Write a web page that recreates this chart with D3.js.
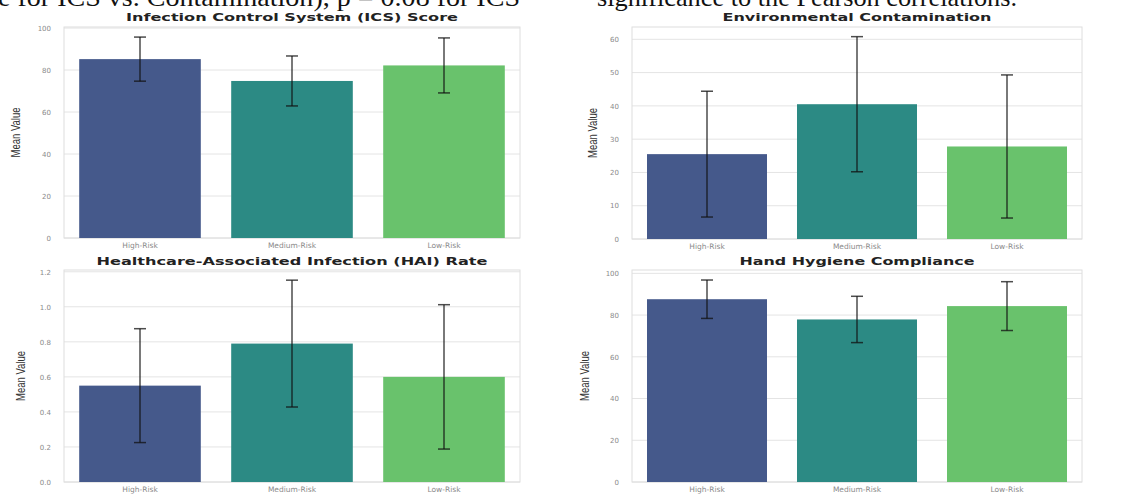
<!DOCTYPE html>
<html>
<head>
<meta charset="utf-8">
<script src="https://cdn.jsdelivr.net/npm/d3@7"></script>
<style>
  html, body { margin: 0; padding: 0; background: #fff; }
  svg { display: block; }
</style>
</head>
<body>
<svg id="chart" width="1126" height="494"></svg>
<script>
// ---- data ----
const categories = ["High-Risk", "Medium-Risk", "Low-Risk"];
const titles = [
  "Infection Control System (ICS) Score",
  "Environmental Contamination",
  "Healthcare-Associated Infection (HAI) Rate",
  "Hand Hygiene Compliance"
];
const icsMean = [85.2, 74.8, 82.2];
const icsSd = [10.5, 11.9, 13.1];
const envMean = [25.5, 40.5, 27.8];
const envSd = [18.9, 20.3, 21.5];
const haiMean = [0.55, 0.79, 0.60];
const haiSd = [0.325, 0.362, 0.412];
const hhMean = [87.6, 77.9, 84.3];
const hhSd = [9.2, 11.1, 11.7];
const icsTicks = [0, 20, 40, 60, 80, 100];
const envTicks = [0, 10, 20, 30, 40, 50, 60];
const haiTicks = [0, 0.2, 0.4, 0.6, 0.8, 1.0, 1.2];
const hhTicks = [0, 20, 40, 60, 80, 100];
const docTextLeft = "e for ICS vs. Contamination), p = 0.08 for ICS";
const docTextRight = "significance to the Pearson correlations.";

const barColors = ["#45598b", "#2c8a84", "#69c26c"];

const svg = d3.select("#chart");

// document text cut at the top
svg.append("text").attr("x", -2).attr("y", 6)
  .attr("font-family", "Liberation Serif, serif").attr("font-size", 26)
  .attr("textLength", 522).attr("lengthAdjust", "spacingAndGlyphs")
  .attr("fill", "#111").text(docTextLeft);
svg.append("text").attr("x", 597).attr("y", 6)
  .attr("font-family", "Liberation Serif, serif").attr("font-size", 26)
  .attr("textLength", 420).attr("lengthAdjust", "spacingAndGlyphs")
  .attr("fill", "#111").text(docTextRight);

const panels = [
  { title: titles[0], mean: icsMean, sd: icsSd, ticks: icsTicks, fmt: d3.format("d"),
    x0: 64, x1: 520, y0: 27, y1: 238, ymax: 100.5, titleY: 21, titleW: 332, labelX: 16 },
  { title: titles[1], mean: envMean, sd: envSd, ticks: envTicks, fmt: d3.format("d"),
    x0: 632, x1: 1082, y0: 27, y1: 239, ymax: 63.7, titleY: 21, titleW: 269, labelX: 593 },
  { title: titles[2], mean: haiMean, sd: haiSd, ticks: haiTicks, fmt: d3.format(".1f"),
    x0: 64, x1: 520, y0: 270, y1: 482, ymax: 1.21, titleY: 265, titleW: 391, labelX: 21 },
  { title: titles[3], mean: hhMean, sd: hhSd, ticks: hhTicks, fmt: d3.format("d"),
    x0: 632, x1: 1082, y0: 270, y1: 482, ymax: 101.6, titleY: 265, titleW: 235, labelX: 585 }
];

panels.forEach(p => {
  const g = svg.append("g");
  const x = d3.scaleBand().domain(categories).range([p.x0, p.x1]).paddingInner(0.2).paddingOuter(0.1);
  const y = d3.scaleLinear().domain([0, p.ymax]).range([p.y1, p.y0]);

  // grid
  g.selectAll("line.grid").data(p.ticks).join("line")
    .attr("x1", p.x0).attr("x2", p.x1)
    .attr("y1", d => y(d)).attr("y2", d => y(d))
    .attr("stroke", "#e4e4e4").attr("stroke-width", 1);

  // frame
  g.append("rect").attr("x", p.x0).attr("y", p.y0)
    .attr("width", p.x1 - p.x0).attr("height", p.y1 - p.y0)
    .attr("fill", "none").attr("stroke", "#dedede").attr("stroke-width", 1);

  // bars
  g.selectAll("rect.bar").data(categories).join("rect")
    .attr("x", d => x(d)).attr("width", x.bandwidth())
    .attr("y", (d, i) => y(p.mean[i]))
    .attr("height", (d, i) => y(0) - y(p.mean[i]))
    .attr("fill", (d, i) => barColors[i]);

  // error bars
  const cap = 6;
  categories.forEach((c, i) => {
    const cx = x(c) + x.bandwidth() / 2;
    const lo = y(p.mean[i] - p.sd[i]);
    const hi = y(p.mean[i] + p.sd[i]);
    const eg = g.append("g").attr("stroke", "#111").attr("stroke-opacity", 0.75).attr("stroke-width", 1.5);
    eg.append("line").attr("x1", cx).attr("x2", cx).attr("y1", lo).attr("y2", hi);
    eg.append("line").attr("x1", cx - cap).attr("x2", cx + cap).attr("y1", lo).attr("y2", lo);
    eg.append("line").attr("x1", cx - cap).attr("x2", cx + cap).attr("y1", hi).attr("y2", hi);
  });

  // y axis tick labels
  const yAxis = d3.axisLeft(y).tickValues(p.ticks).tickFormat(p.fmt).tickSize(0).tickPadding(13);
  const ya = g.append("g").attr("transform", `translate(${p.x0},0)`).call(yAxis);
  ya.select(".domain").remove();
  ya.selectAll("text").attr("font-family", "DejaVu Sans, sans-serif").attr("font-size", 7).attr("fill", "#8a8a8a");

  // x axis tick labels
  const xAxis = d3.axisBottom(x).tickSize(0).tickPadding(5);
  const xa = g.append("g").attr("transform", `translate(0,${p.y1})`).call(xAxis);
  xa.select(".domain").remove();
  xa.selectAll("text").attr("font-family", "DejaVu Sans, sans-serif").attr("font-size", 7.5).attr("fill", "#8a8a8a");

  // y label
  const ly = (p.y0 + p.y1) / 2;
  g.append("text")
    .attr("transform", `translate(${p.labelX + 4},${ly}) rotate(-90)`)
    .attr("text-anchor", "middle")
    .attr("font-family", "Liberation Sans Narrow, Liberation Sans, sans-serif")
    .attr("font-size", 12).attr("fill", "#333")
    .attr("textLength", 50).attr("lengthAdjust", "spacingAndGlyphs")
    .text("Mean Value");

  // title
  g.append("text")
    .attr("x", (p.x0 + p.x1) / 2).attr("y", p.titleY)
    .attr("text-anchor", "middle")
    .attr("font-family", "DejaVu Sans, sans-serif").attr("font-weight", "bold")
    .attr("font-size", 10).attr("fill", "#222")
    .attr("textLength", p.titleW).attr("lengthAdjust", "spacingAndGlyphs")
    .text(p.title);
});
</script>
</body>
</html>
